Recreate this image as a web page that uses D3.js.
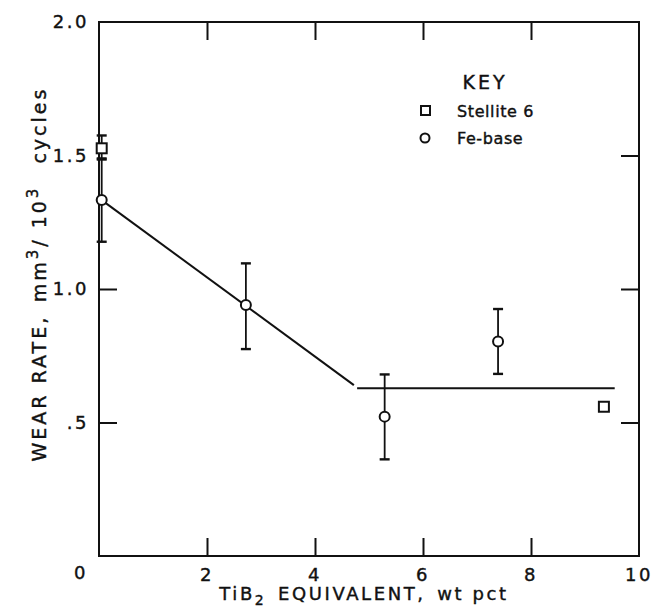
<!DOCTYPE html>
<html>
<head>
<meta charset="utf-8">
<script src="https://cdn.jsdelivr.net/npm/d3@7"></script>
<style>
  html, body { margin: 0; padding: 0; background: #fff; }
  svg { display: block; }
  text { font-family: "DejaVu Sans", sans-serif; fill: #111; stroke: #111; stroke-width: 0.4; }
</style>
</head>
<body>
<div id="chart"></div>
<script>
// --- Data ---
const feX  = [0.05, 2.72, 5.29, 7.39];
const feY  = [1.333, 0.94, 0.522, 0.803];
const feLo = [1.177, 0.775, 0.362, 0.682];
const feHi = [1.489, 1.096, 0.68, 0.925];

const stX  = [0.05, 9.35];
const stY  = [1.527, 0.559];
const stLo = [1.485, null];
const stHi = [1.575, null];

const fitX  = [0.05, 4.72];
const fitY  = [1.333, 0.64];
const flatX = [4.78, 9.55];
const flatY = [0.628, 0.628];

const xTicks = [2, 4, 6, 8, 10];
const xTickLabels = ["2", "4", "6", "8", "10"];
const yTicks = [0.5, 1.0, 1.5, 2.0];
const yTickLabels = [".5", "1.0", "1.5", "2.0"];
const legendLabels = ["Stellite 6", "Fe-base"];

// --- Layout ---
const W = 655, H = 611;
const M = {left: 99, right: 15, top: 22, bottom: 55};
const TICK = 18;

const svg = d3.select("#chart").append("svg").attr("width", W).attr("height", H);

const x = d3.scaleLinear().domain([0, 10]).range([M.left, W - M.right - 1]);
const y = d3.scaleLinear().domain([0, 2]).range([H - M.bottom, M.top]);

const ink = "#111";

// frame
svg.append("rect")
    .attr("x", x(0)).attr("y", y(2))
    .attr("width", x(10) - x(0)).attr("height", y(0) - y(2))
    .attr("fill", "none").attr("stroke", ink).attr("stroke-width", 2);

// inward ticks via axes (labels drawn separately)
const inner = [2, 4, 6, 8];
svg.append("g").attr("transform", `translate(0,${y(0)})`)
    .call(d3.axisBottom(x).tickValues(inner).tickSize(-TICK).tickFormat(""));
svg.append("g").attr("transform", `translate(0,${y(2)})`)
    .call(d3.axisTop(x).tickValues(inner).tickSize(-TICK).tickFormat(""));
svg.append("g").attr("transform", `translate(${x(0)},0)`)
    .call(d3.axisLeft(y).tickValues([0.5, 1.0]).tickSize(-TICK).tickFormat(""));
svg.append("g").attr("transform", `translate(${x(10)},0)`)
    .call(d3.axisRight(y).tickValues([0.5, 1.0, 1.5]).tickSize(-TICK).tickFormat(""));
svg.selectAll(".domain").remove();
svg.selectAll(".tick line").attr("stroke", ink).attr("stroke-width", 2);

// tick labels
const lab = svg.append("g").attr("font-size", 18).attr("letter-spacing", 2.5);
lab.selectAll(".xl").data(xTicks).join("text")
    .attr("x", d => x(d)).attr("y", y(0) + 25)
    .attr("text-anchor", "middle")
    .text((d, i) => xTickLabels[i]);
lab.selectAll(".yl").data(yTicks).join("text")
    .attr("x", x(0) - 10).attr("y", d => y(d) + 6)
    .attr("text-anchor", "end")
    .text((d, i) => yTickLabels[i]);
lab.append("text").attr("x", x(0) - 18).attr("y", y(0) + 23)
    .attr("text-anchor", "middle").text("0");

// axis titles
const xt = svg.append("text").attr("x", 364).attr("y", 600)
    .attr("text-anchor", "middle").attr("font-size", 18).attr("letter-spacing", 2.6);
xt.append("tspan").text("TiB");
xt.append("tspan").attr("dy", 5).attr("font-size", 14).text("2");
xt.append("tspan").attr("dy", -5).text("\u2002EQUIVALENT,\u2002wt pct");

const yt = svg.append("text")
    .attr("transform", `translate(46,274) rotate(-90)`)
    .attr("text-anchor", "middle").attr("font-size", 19).attr("letter-spacing", 3);
yt.append("tspan").text("WEAR RATE,\u2002mm");
yt.append("tspan").attr("dy", -8).attr("font-size", 15).text("3");
yt.append("tspan").attr("dy", 8).text("/ 10");
yt.append("tspan").attr("dy", -8).attr("font-size", 15).text("3");
yt.append("tspan").attr("dy", 8).text("\u2003cycles");

// fitted lines
const line = d3.line().x(d => x(d[0])).y(d => y(d[1]));
svg.append("path").datum(d3.zip(fitX, fitY)).attr("d", line)
    .attr("fill", "none").attr("stroke", ink).attr("stroke-width", 2);
svg.append("path").datum(d3.zip(flatX, flatY)).attr("d", line)
    .attr("fill", "none").attr("stroke", ink).attr("stroke-width", 2);

// error bars
function errBars(xs, lo, hi) {
    const rows = xs.map((v, i) => ({x: v, lo: lo[i], hi: hi[i]})).filter(r => r.lo != null);
    const g = svg.append("g").attr("stroke", ink).attr("stroke-width", 1.8);
    g.selectAll(".v").data(rows).join("line")
        .attr("x1", d => x(d.x)).attr("x2", d => x(d.x))
        .attr("y1", d => y(d.lo)).attr("y2", d => y(d.hi));
    ["lo", "hi"].forEach(k => {
        g.selectAll(".c" + k).data(rows).join("line")
            .attr("x1", d => x(d.x) - 5).attr("x2", d => x(d.x) + 5)
            .attr("y1", d => y(d[k])).attr("y2", d => y(d[k]))
            .attr("stroke-width", 2.4);
    });
}
errBars(stX, stLo, stHi);
errBars(feX, feLo, feHi);

// markers
svg.append("g").selectAll("rect").data(d3.zip(stX, stY)).join("rect")
    .attr("x", d => x(d[0]) - 5).attr("y", d => y(d[1]) - 5)
    .attr("width", 10).attr("height", 10)
    .attr("fill", "#fff").attr("stroke", ink).attr("stroke-width", 2);
svg.append("g").selectAll("circle").data(d3.zip(feX, feY)).join("circle")
    .attr("cx", d => x(d[0])).attr("cy", d => y(d[1])).attr("r", 5)
    .attr("fill", "#fff").attr("stroke", ink).attr("stroke-width", 2);

// --- Legend ---
const key = svg.append("g");
key.append("text").attr("x", 485).attr("y", 89).attr("text-anchor", "middle")
    .attr("font-size", 19).attr("letter-spacing", 3).text("KEY");
key.append("rect").attr("x", 421).attr("y", 106).attr("width", 9).attr("height", 9)
    .attr("fill", "#fff").attr("stroke", ink).attr("stroke-width", 2);
key.append("circle").attr("cx", 425).attr("cy", 138).attr("r", 4.5)
    .attr("fill", "#fff").attr("stroke", ink).attr("stroke-width", 2);
key.selectAll(".lt").data(legendLabels).join("text")
    .attr("x", 457).attr("y", (d, i) => 117 + i * 27)
    .attr("font-size", 16).attr("letter-spacing", 0.6)
    .text(d => d);
</script>
</body>
</html>
